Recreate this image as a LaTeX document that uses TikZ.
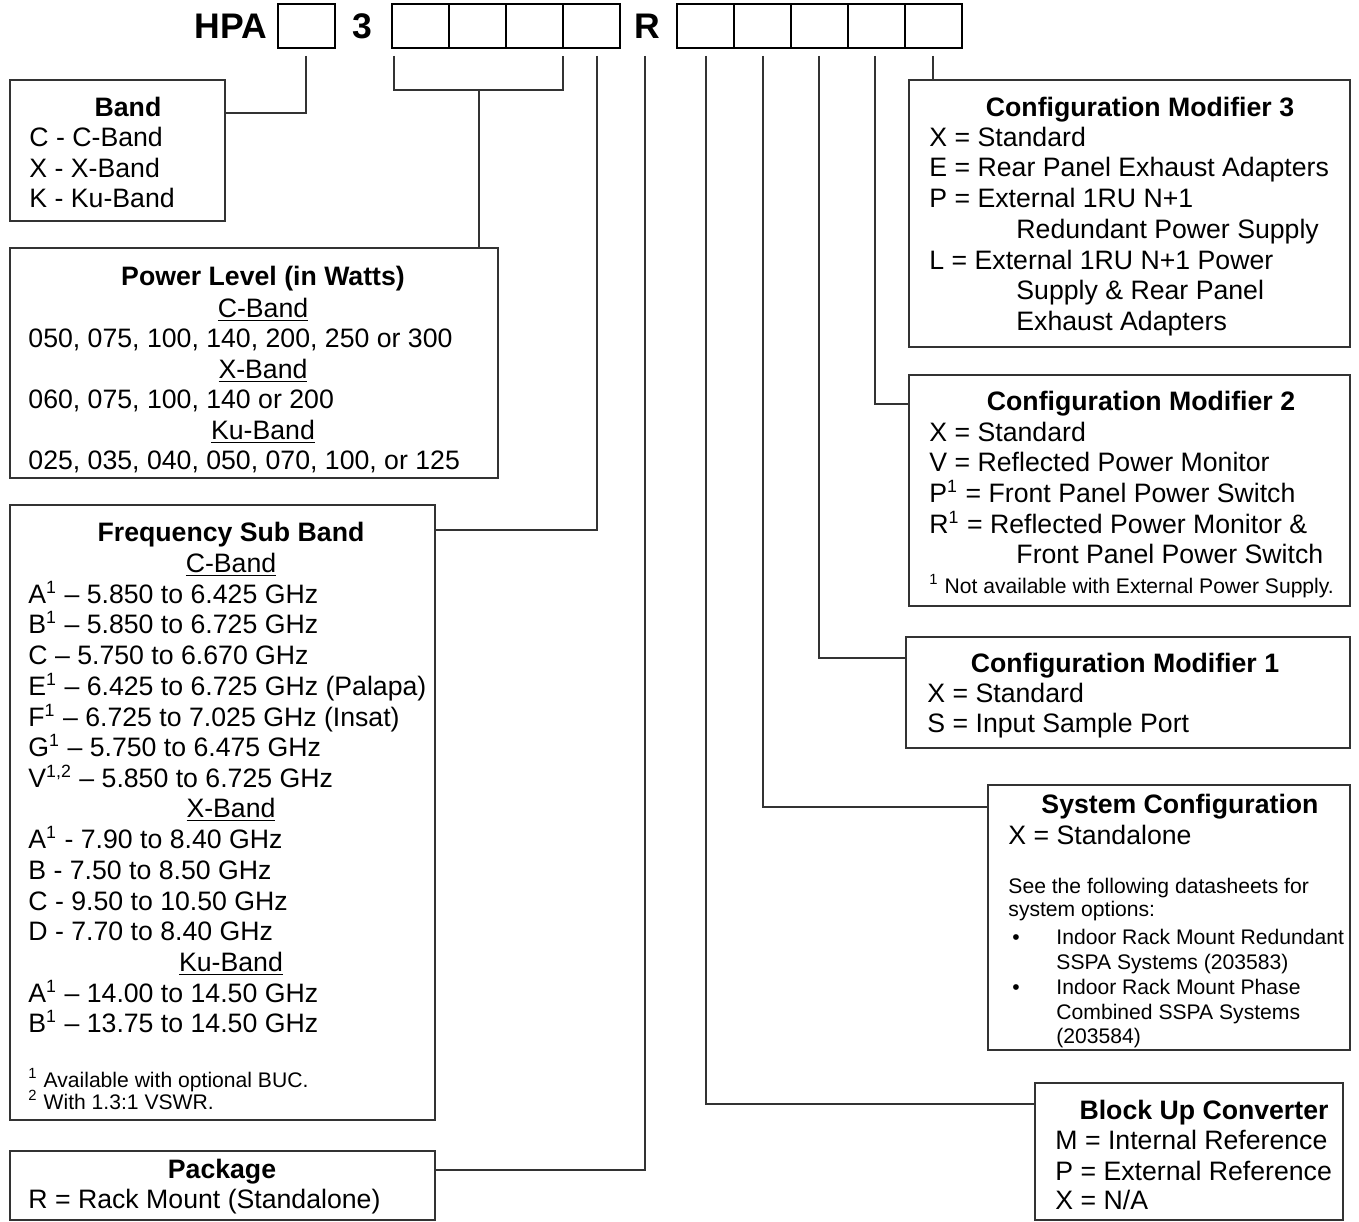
\documentclass[tikz,border=0pt]{standalone}
\usepackage{fontspec}
\setmainfont{Liberation Sans}
\usetikzlibrary{fit}
\tikzset{
  cell/.style={draw=black, line width=1.1pt, inner sep=0pt},
  box/.style={draw=black!80, line width=0.65pt, inner sep=0pt},
  conn/.style={draw=black!80, line width=0.6pt},
  txt/.style={inner sep=0pt, font=\fontsize{12}{13.8}\selectfont, anchor=base west},
  ttl/.style={inner sep=0pt, font=\fontsize{12}{13.8}\selectfont\bfseries, anchor=base},
  sub/.style={inner sep=0pt, font=\fontsize{12}{13.8}\selectfont, anchor=base},
  sml/.style={inner sep=0pt, font=\fontsize{9.5}{11}\selectfont, anchor=base west},
  smc/.style={inner sep=0pt, font=\fontsize{9.5}{11}\selectfont, anchor=base},
  hdr/.style={inner sep=0pt, font=\fontsize{16}{19}\selectfont\bfseries, anchor=base},
}
\newcommand\sps[1]{\textsuperscript{#1}}
\begin{document}
\begin{tikzpicture}[x=0.45pt,y=-0.45pt]
\useasboundingbox (0,0) rectangle (1359,1222);
\fill[white] (0,0) rectangle (1359,1222);

% ---------- header ----------
\node[hdr] (hpa) at (231,39) {HPA};
\node[hdr] (three) at (362,39) {3};
\node[hdr] (rr) at (647,39) {R};
\node[cell, fit={(278,4) (335,48)}] (c1) {};
\foreach \i [evaluate=\i as \a using 392+57*(\i-1)] in {1,...,4}
  {\node[cell, fit={(\a,4) (\a+57,48)}] (p\i) {};}
\foreach \i [evaluate=\i as \a using 677+57*(\i-1)] in {1,...,5}
  {\node[cell, fit={(\a,4) (\a+57,48)}] (q\i) {};}

% ---------- boxes ----------
\node[box, fit={(10,80) (225,221)}] (band) {};
\node[box, fit={(10,248) (498,478)}] (power) {};
\node[box, fit={(10,505) (435,1120)}] (freq) {};
\node[box, fit={(10,1151) (435,1220)}] (pack) {};
\node[box, fit={(909,80) (1350,347)}] (cm3) {};
\node[box, fit={(909,375) (1350,606)}] (cm2) {};
\node[box, fit={(906,637) (1350,748)}] (cm1) {};
\node[box, fit={(988,785) (1350,1050)}] (sys) {};
\node[box, fit={(1035,1083) (1343,1220)}] (buc) {};

% ---------- connectors ----------
\coordinate (kB) at (306,56);  \coordinate (eB) at (225,113);
\coordinate (kP1) at (394,56); \coordinate (kP2) at (563,56); \coordinate (mP) at (479,90);
\coordinate (kF) at (597,56);  \coordinate (eF) at (435,530);
\coordinate (kK) at (645,56);  \coordinate (eK) at (435,1170);
\coordinate (kU) at (706,56);  \coordinate (eU) at (1035,1104);
\coordinate (kS) at (763,56);  \coordinate (eS) at (988,807);
\coordinate (k1) at (819,56);  \coordinate (e1) at (906,658);
\coordinate (k2) at (875,56);  \coordinate (e2) at (909,404);
\coordinate (k3) at (933,56);
\draw[conn] (kB) |- (eB);
\draw[conn] (kP1) |- (mP) -| (kP2);
\draw[conn] (mP) -- (mP |- power.north);
\draw[conn] (kF) |- (eF);
\draw[conn] (kK) |- (eK);
\draw[conn] (kU) |- (eU);
\draw[conn] (kS) |- (eS);
\draw[conn] (k1) |- (e1);
\draw[conn] (k2) |- (e2);
\draw[conn] (k3) -- (k3 |- cm3.north);

% ---------- Band ----------
\node[ttl] (bandT) at (128,117) {Band};
\node[txt] (band1) at (29,147) {C - C-Band};
\node[txt] (band2) at (29,178) {X - X-Band};
\node[txt] (band3) at (29,208) {K - Ku-Band};

% ---------- Power ----------
\node[ttl] (powT) at (263,286) {Power Level (in Watts)};
\node[sub] (pow1) at (263,317) {\underline{C-Band}};
\node[txt] (pow2) at (28,347) {050, 075, 100, 140, 200, 250 or 300};
\node[sub] (pow3) at (263,378) {\underline{X-Band}};
\node[txt] (pow4) at (28,408) {060, 075, 100, 140 or 200};
\node[sub] (pow5) at (263,439) {\underline{Ku-Band}};
\node[txt] (pow6) at (28,469) {025, 035, 040, 050, 070, 100, or 125};

% ---------- Frequency ----------
\node[ttl] (frT) at (231,541) {Frequency Sub Band};
\node[sub] (fr1) at (231,572) {\underline{C-Band}};
\node[txt] (fr2) at (28,603) {A\sps{1} – 5.850 to 6.425 GHz};
\node[txt] (fr3) at (28,633) {B\sps{1} – 5.850 to 6.725 GHz};
\node[txt] (fr4) at (28,664) {C – 5.750 to 6.670 GHz};
\node[txt] (fr5) at (28,695) {E\sps{1} – 6.425 to 6.725 GHz (Palapa)};
\node[txt] (fr6) at (28,726) {F\sps{1} – 6.725 to 7.025 GHz (Insat)};
\node[txt] (fr7) at (28,756) {G\sps{1} – 5.750 to 6.475 GHz};
\node[txt] (fr8) at (28,787) {V\sps{1,2} – 5.850 to 6.725 GHz};
\node[sub] (fr9) at (231,817) {\underline{X-Band}};
\node[txt] (fr10) at (28,848) {A\sps{1} - 7.90 to 8.40 GHz};
\node[txt] (fr11) at (28,879) {B - 7.50 to 8.50 GHz};
\node[txt] (fr12) at (28,910) {C - 9.50 to 10.50 GHz};
\node[txt] (fr13) at (28,940) {D - 7.70 to 8.40 GHz};
\node[sub] (fr14) at (231,971) {\underline{Ku-Band}};
\node[txt] (fr15) at (28,1002) {A\sps{1} – 14.00 to 14.50 GHz};
\node[txt] (fr16) at (28,1032) {B\sps{1} – 13.75 to 14.50 GHz};
\node[sml] (fr17) at (28,1087) {\sps{1} Available with optional BUC.};
\node[sml] (fr18) at (28,1109) {\sps{2} With 1.3:1 VSWR.};

% ---------- Package ----------
\node[ttl] (pkT) at (222,1178) {Package};
\node[txt] (pk1) at (28,1208) {R = Rack Mount (Standalone)};

% ---------- Config Modifier 3 ----------
\node[ttl] (m3T) at (1140,117) {Configuration Modifier 3};
\node[txt] (m31) at (929,147) {X = Standard};
\node[txt] (m32) at (929,177) {E = Rear Panel Exhaust Adapters};
\node[txt] (m33) at (929,208) {P = External 1RU N+1};
\node[txt] (m34) at (1016,239) {Redundant Power Supply};
\node[txt] (m35) at (929,269) {L = External 1RU N+1 Power};
\node[txt] (m36) at (1016,300) {Supply \& Rear Panel};
\node[txt] (m37) at (1016,331) {Exhaust Adapters};

% ---------- Config Modifier 2 ----------
\node[ttl] (m2T) at (1141,410) {Configuration Modifier 2};
\node[txt] (m21) at (929,441) {X = Standard};
\node[txt] (m22) at (929,471) {V = Reflected Power Monitor};
\node[txt] (m23) at (929,502) {P\sps{1} = Front Panel Power Switch};
\node[txt] (m24) at (929,533) {R\sps{1} = Reflected Power Monitor \&};
\node[txt] (m25) at (1016,563) {Front Panel Power Switch};
\node[sml] (m26) at (929,593) {\sps{1} Not available with External Power Supply.};

% ---------- Config Modifier 1 ----------
\node[ttl] (m1T) at (1125,672) {Configuration Modifier 1};
\node[txt] (m11) at (927,702) {X = Standard};
\node[txt] (m12) at (927,732) {S = Input Sample Port};

% ---------- System Configuration ----------
\node[ttl] (syT) at (1180,813) {System Configuration};
\node[txt] (sy1) at (1008,844) {X = Standalone};
\node[sml] (sy2) at (1008,893) {See the following datasheets for};
\node[sml] (sy3) at (1008,916) {system options:};
\node[smc] (syb1) at (1016,944) {•};
\node[sml] (sy4) at (1056,944) {Indoor Rack Mount Redundant};
\node[sml] (sy5) at (1056,969) {SSPA Systems (203583)};
\node[smc] (syb2) at (1016,994) {•};
\node[sml] (sy6) at (1056,994) {Indoor Rack Mount Phase};
\node[sml] (sy7) at (1056,1019) {Combined SSPA Systems};
\node[sml] (sy8) at (1056,1043) {(203584)};

% ---------- Block Up Converter ----------
\node[ttl] (buT) at (1204,1119) {Block Up Converter};
\node[txt] (bu1) at (1055,1149) {M = Internal Reference};
\node[txt] (bu2) at (1055,1180) {P = External Reference};
\node[txt] (bu3) at (1055,1209) {X = N/A};
\end{tikzpicture}
\end{document}
